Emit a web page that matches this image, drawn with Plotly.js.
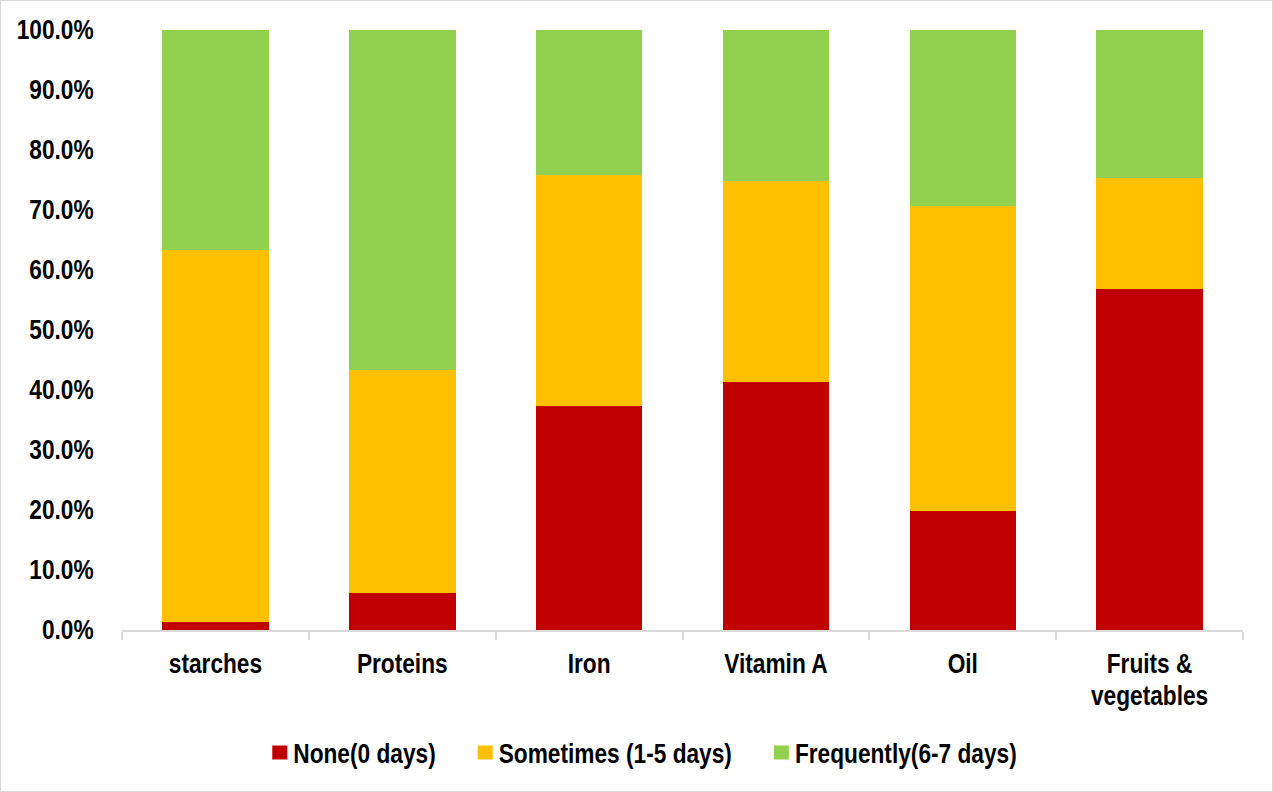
<!DOCTYPE html>
<html>
<head>
<meta charset="utf-8">
<script src="https://cdn.plot.ly/plotly-3.0.1.min.js"></script>
<style>
  html, body { margin: 0; padding: 0; background: #fff; }
  #wrap { position: relative; width: 1273px; height: 792px; }
  #chart { width: 1273px; height: 792px; }
  #frame { position: absolute; left: 0; top: 0; width: 1271px; height: 790px;
           border: 1px solid #d9d9d9; pointer-events: none; }
</style>
</head>
<body>
<div id="wrap">
  <div id="chart"></div>
  <div id="frame"></div>
</div>
<script>
// Food groups and the share of respondents by consumption frequency (%)
const categories = ["starches", "Proteins", "Iron", "Vitamin A", "Oil", "Fruits &<br>vegetables"];
const noneDays = [1.4, 6.2, 37.4, 41.3, 19.9, 56.8];
const sometimesDays = [62.0, 37.1, 38.5, 33.6, 50.8, 18.5];
const frequentlyDays = [36.6, 56.7, 24.1, 25.1, 29.3, 24.7];

const seriesNames = ["None(0 days)", "Sometimes (1-5 days)", "Frequently(6-7 days)"];
const seriesColors = ["#C00000", "#FFC000", "#92D050"];

const font = "'Liberation Sans', Arial, sans-serif";
const textSize = 27;
const narrow = 0.84;       // horizontal squeeze giving a condensed bold face
const swatchGap = 6;       // swatch to label
const entryGap = 42;       // label to next swatch
const lineStep = "1.18em"; // spacing of two-line category labels

const traces = [noneDays, sometimesDays, frequentlyDays].map((vals, i) => ({
  type: "bar",
  x: categories,
  y: vals,
  name: seriesNames[i],
  marker: { color: seriesColors[i], line: { width: 0 } },
  hoverinfo: "x+y+name"
}));

const layout = {
  width: 1273,
  height: 792,
  barmode: "stack",
  bargap: 0.43,
  paper_bgcolor: "#ffffff",
  plot_bgcolor: "#ffffff",
  margin: { l: 122, r: 30, t: 30, b: 162, autoexpand: false },
  font: { family: font, size: textSize, color: "#000000", weight: "bold" },
  xaxis: {
    type: "category",
    showline: true,
    linecolor: "#d9d9d9",
    linewidth: 2,
    ticks: "outside",
    tickson: "boundaries",
    ticklen: 8,
    tickwidth: 2,
    tickcolor: "#d9d9d9",
    ticklabelstandoff: 9,
    tickangle: 0,
    automargin: false,
    showgrid: false,
    tickfont: { family: font, size: textSize, color: "#000000", weight: "bold" }
  },
  yaxis: {
    range: [0, 100],
    dtick: 10,
    tick0: 0,
    tickformat: ".1f",
    ticksuffix: "%",
    showgrid: false,
    zeroline: false,
    showline: false,
    ticks: "outside",
    ticklen: 22,
    tickcolor: "rgba(0,0,0,0)",
    automargin: false,
    tickfont: { family: font, size: textSize, color: "#000000", weight: "bold" }
  },
  legend: {
    orientation: "h",
    x: 0.5,
    xanchor: "center",
    y: -0.164,
    yanchor: "top",
    traceorder: "normal",
    itemwidth: 30,
    font: { family: font, size: textSize, color: "#000000", weight: "bold" }
  },
  showlegend: true
};

// Compress a text node (or each of its lines) horizontally; returns new width.
function squeeze(el) {
  const lines = el.querySelectorAll("tspan.line");
  const parts = lines.length ? Array.from(lines) : [el];
  let widest = 0;
  parts.forEach(p => {
    const w = p.getComputedTextLength();
    if (w > 0) {
      p.setAttribute("textLength", (w * narrow).toFixed(2));
      p.setAttribute("lengthAdjust", "spacingAndGlyphs");
      widest = Math.max(widest, w * narrow);
    }
  });
  return widest;
}

function readTranslate(g) {
  const m = /translate\(\s*([-\d.eE]+)[ ,]+([-\d.eE]+)/.exec(g.getAttribute("transform") || "");
  return m ? [parseFloat(m[1]), parseFloat(m[2])] : [0, 0];
}

function shiftX(g, dx) {
  const p = readTranslate(g);
  g.setAttribute("transform", "translate(" + (p[0] + dx) + "," + p[1] + ")");
}

Plotly.newPlot("chart", traces, layout, { displayModeBar: false, staticPlot: true }).then(gd => {
  gd.querySelectorAll(".xtick text, .ytick text").forEach(squeeze);

  // Tighter line spacing for wrapped category labels
  gd.querySelectorAll(".xtick text tspan.line").forEach(t => {
    const dy = t.getAttribute("dy");
    if (dy && parseFloat(dy) > 0) t.setAttribute("dy", lineStep);
  });

  // Larger swatches, closer labels, then re-pack the legend entries
  const items = Array.from(gd.querySelectorAll(".legend .traces"));
  let prevRight = null;
  let firstLeft = null;
  items.forEach(item => {
    const sw = item.querySelector(".legendpoints path");
    const txt = item.querySelector("text.legendtext");
    if (sw) sw.setAttribute("d", "M7.5,7H-7.5V-7H7.5Z");
    squeeze(txt);
    const swR = sw.getBoundingClientRect();
    const txR = txt.getBoundingClientRect();
    const tx = parseFloat(txt.getAttribute("x")) || 40;
    txt.setAttribute("x", tx + (swR.right + swatchGap - txR.left));
    if (prevRight !== null) {
      shiftX(item, prevRight + entryGap - sw.getBoundingClientRect().left);
    }
    if (firstLeft === null) firstLeft = sw.getBoundingClientRect().left;
    prevRight = txt.getBoundingClientRect().right;
  });

  // Centre the packed legend under the chart
  const legend = gd.querySelector(".legend");
  const centre = 644.5;
  shiftX(legend, centre - (firstLeft + prevRight) / 2);
});
</script>
</body>
</html>
